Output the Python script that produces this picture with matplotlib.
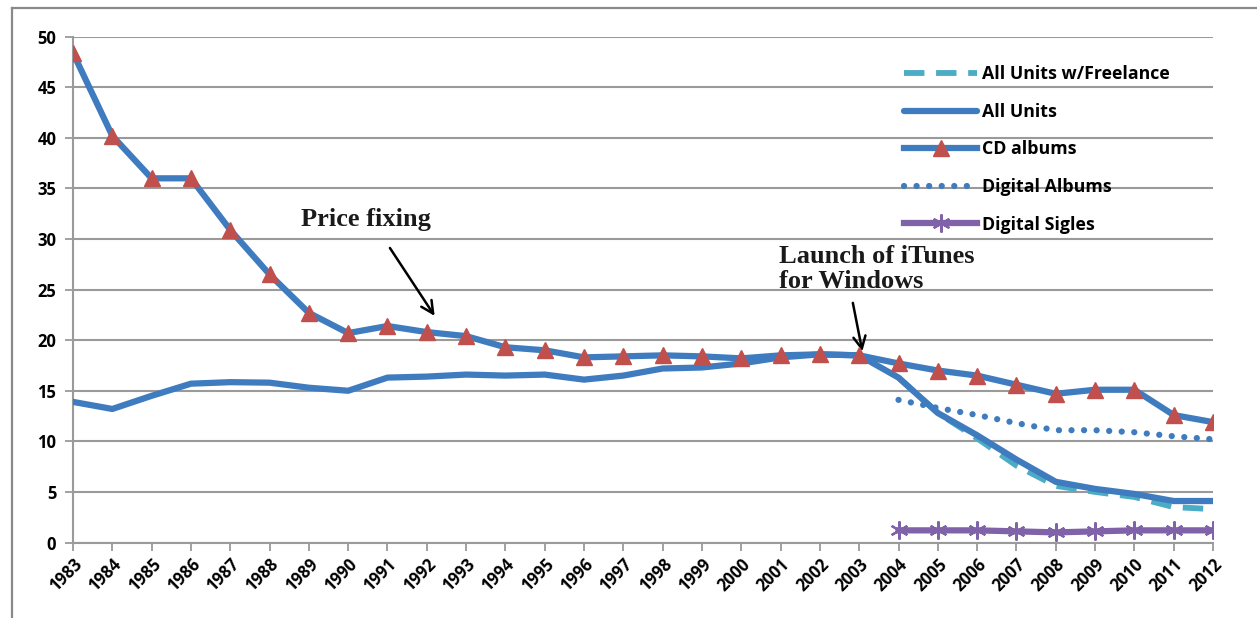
import matplotlib
matplotlib.use("Agg")
import matplotlib.pyplot as plt
from matplotlib.lines import Line2D

years = list(range(1983, 2013))
year_labels = [str(y) for y in years]

cd_albums = [48.4, 40.2, 36.0, 36.0, 30.9, 26.5, 22.7, 20.7, 21.4, 20.8,
             20.4, 19.3, 19.0, 18.3, 18.4, 18.5, 18.4, 18.2, 18.5, 18.6,
             18.5, 17.7, 17.0, 16.5, 15.6, 14.7, 15.1, 15.1, 12.6, 11.9]
all_units = [13.9, 13.2, 14.5, 15.7, 15.85, 15.8, 15.3, 15.0, 16.3, 16.4,
             16.6, 16.5, 16.6, 16.1, 16.5, 17.2, 17.3, 17.7, 18.3, 18.6,
             18.5, 16.3, 12.8, 10.6, 8.2, 6.0, 5.3, 4.8, 4.1, 4.1]
freelance_years = years[21:]
all_units_freelance = [16.3, 12.8, 10.3, 7.6, 5.6, 5.0, 4.5, 3.5, 3.3]
digital_years = years[21:]
digital_albums = [14.1, 13.3, 12.6, 11.8, 11.1, 11.1, 10.9, 10.5, 10.2]
digital_singles = [1.2, 1.2, 1.2, 1.1, 1.0, 1.1, 1.2, 1.2, 1.2]

blue = "#3f7cbf"
red = "#c0504d"
cyan = "#4bacc6"
purple = "#7f62a8"
grid = "#9a9a9a"

fig = plt.figure(figsize=(12.57, 6.18), dpi=100)
ax = fig.add_axes([73/1257, 1-542.5/618, 1140/1257, 505.8/618])

ax.plot(freelance_years, all_units_freelance, color=cyan, lw=4.2,
        linestyle=(0, (3.5, 2.0)), label="All Units w/Freelance", zorder=3)
ax.plot(years, all_units, color=blue, lw=4.5, label="All Units", zorder=4,
        solid_capstyle="round")
ax.plot(years, cd_albums, color=blue, lw=4.5, marker="^", markersize=11,
        markerfacecolor=red, markeredgecolor=red, label="CD albums", zorder=5)
ax.plot(digital_years, digital_albums, color=blue, lw=4.5,
        linestyle=(0, (0.01, 2.0)), dash_capstyle="round",
        label="Digital Albums", zorder=3)
ax.plot(digital_years, digital_singles, color=purple, lw=4.5, marker=(6, 2, 0),
        markersize=13, markeredgewidth=1.6, markeredgecolor=purple,
        label="Digital Sigles", zorder=3)

ax.set_xlim(1983, 2012)
ax.set_ylim(0, 50)
ax.set_yticks(range(0, 51, 5))
ax.set_xticks(years)
ax.set_xticklabels(year_labels, rotation=45, ha="right", va="top",
                   rotation_mode="anchor")
ax.tick_params(axis="both", labelsize=12, color=grid, width=1.3, length=6,
               direction="out")
for lab in ax.get_xticklabels() + ax.get_yticklabels():
    lab.set_fontweight("bold")
    lab.set_family("Open Sans")
ax.tick_params(axis="x", pad=3)
ax.tick_params(axis="y", pad=6)
ax.grid(axis="y", color=grid, lw=1.5)
ax.set_axisbelow(True)
for s in ["top", "right"]:
    ax.spines[s].set_visible(False)
for s in ["left", "bottom"]:
    ax.spines[s].set_color(grid)
    ax.spines[s].set_linewidth(1.5)

leg = ax.legend(loc="upper left", bbox_to_anchor=(0.715, 0.975), frameon=False,
                prop={"family": "Open Sans", "weight": "bold", "size": 12.8},
                handlelength=4.1, labelspacing=1.1, handletextpad=0.3)

serif = ["Liberation Serif", "DejaVu Serif"]
ax.annotate("Price fixing", xy=(1992.2, 22.4), xytext=(1988.8, 31.9),
            fontsize=19, fontweight="bold", family=serif, va="center", ha="left",
            color="#1a1a1a",
            arrowprops=dict(arrowstyle="->", color="black", lw=1.8,
                            mutation_scale=22, shrinkA=12, shrinkB=0,
                            relpos=(0.6, 0.0)))
ax.annotate("Launch of iTunes\nfor Windows", xy=(2003.08, 18.9),
            xytext=(2000.95, 27.0), fontsize=19, fontweight="bold", family=serif,
            va="center", ha="left", linespacing=1.1, color="#1a1a1a",
            arrowprops=dict(arrowstyle="->", color="black", lw=1.8,
                            mutation_scale=22, shrinkA=5, shrinkB=0,
                            relpos=(0.37, 0.0)))

# outer frame
fy = 1 - 8/618
fx = 12/1257
fig.add_artist(Line2D([fx, fx], [0, fy], transform=fig.transFigure,
                      color="#8a8a8a", lw=1.6))
fig.add_artist(Line2D([fx, 1], [fy, fy], transform=fig.transFigure,
                      color="#8a8a8a", lw=1.6))

fig.savefig("out.png", dpi=100)
